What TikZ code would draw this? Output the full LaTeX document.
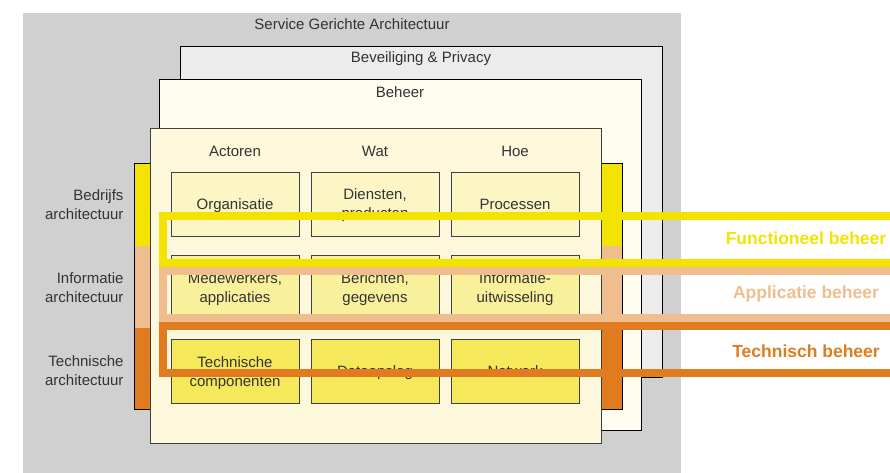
\documentclass[tikz,border=0pt]{standalone}
\usepackage{fontspec}
\setmainfont{Liberation Sans}
\usetikzlibrary{positioning}

\definecolor{soagray}{HTML}{D0D0D0}
\definecolor{secgray}{HTML}{ECECEC}
\definecolor{beheercream}{HTML}{FFFDF0}
\definecolor{panelcream}{HTML}{FDF8DC}
\definecolor{rowone}{HTML}{FBF6C4}
\definecolor{rowtwo}{HTML}{F9F09C}
\definecolor{rowthree}{HTML}{F5E85A}
\definecolor{funcyellow}{HTML}{F2E400}
\definecolor{appsalmon}{HTML}{F0BD8F}
\definecolor{techorange}{HTML}{E07B20}

\begin{document}
\begin{tikzpicture}[x=1pt,y=-1pt,node distance=140pt,
                    every node/.style={font=\fontsize{15}{19}\selectfont,text=black!80}]
  \tikzset{cell/.style={draw=black!75,line width=1pt,minimum width=128pt,minimum height=64pt,
                        inner sep=0pt,align=center,text depth=0pt}}
  \tikzset{layer/.style={draw=black,line width=0.8pt}}
  \tikzset{band/.style={line width=8pt,line join=miter}}
  \tikzset{bandlabel/.style={font=\fontsize{17.5}{19}\selectfont\bfseries}}

  \useasboundingbox (0,0) rectangle (890,473);

  % lagen
  \fill[soagray] (23,13) rectangle (681,473);
  \node (soa) at (352,24) {Service Gerichte Architectuur};
  \filldraw[layer,fill=secgray] (180,46) rectangle (662,377);
  \node (beveiliging) at (421,59) {Beveiliging \& Privacy};
  \filldraw[layer,fill=beheercream] (159,79) rectangle (641,430);
  \node (beheer) at (400,92) {Beheer};

  % architectuur balk
  \fill[funcyellow] (134,163) rectangle (622,246);
  \fill[appsalmon] (134,246) rectangle (622,328);
  \fill[techorange] (134,328) rectangle (622,409);
  \draw[layer] (134,163) rectangle (622,409);
  \filldraw[layer,draw=black!75,line width=1pt,fill=panelcream] (150,129) rectangle (601,443);

  \node[align=right,anchor=east,text depth=0pt] (bedrijfs) at (127,205) {Bedrijfs\\architectuur};
  \node[align=right,anchor=east,text depth=0pt] (informatie) at (127,288) {Informatie\\architectuur};
  \node[align=right,anchor=east,text depth=0pt] (technische) at (127,371) {Technische\\architectuur};

  % cellen
  \node[cell,fill=rowone] (org)              at (235,204)   {Organisatie};
  \node[cell,fill=rowone] (diensten)   [right of=org]      {Diensten,\\producten};
  \node[cell,fill=rowone] (processen)  [right of=diensten] {Processen};

  \node[cell,fill=rowtwo] (medewerkers) [below of=org,node distance=83.5pt] {Medewerkers,\\applicaties};
  \node[cell,fill=rowtwo] (berichten)   [right of=medewerkers] {Berichten,\\gegevens};
  \node[cell,fill=rowtwo] (uitwisseling) [right of=berichten] {Informatie-\\uitwisseling};

  \node[cell,fill=rowthree] (componenten) [below of=medewerkers,node distance=84pt] {Technische\\componenten};
  \node[cell,fill=rowthree] (dataopslag)  [right of=componenten] {Dataopslag};
  \node[cell,fill=rowthree] (netwerk)     [right of=dataopslag] {Netwerk};

  \node (actoren) [above of=org,node distance=53pt]       {Actoren};
  \node (wat)     [above of=diensten,node distance=53pt]  {Wat};
  \node (hoe)     [above of=processen,node distance=53pt] {Hoe};

  % beheer banden
  \draw[band,funcyellow] (895,215.5) -- (163,215.5) -- (163,262.5) -- (895,262.5);
  \draw[band,appsalmon] (895,270.5) -- (163,270.5) -- (163,317.5) -- (895,317.5);
  \draw[band,techorange] (895,325.5) -- (163,325.5) -- (163,372.5) -- (895,372.5);

  \node[bandlabel,text=funcyellow] (functioneel) at (806,238) {Functioneel beheer};
  \node[bandlabel,text=appsalmon]  (applicatie)  at (806,294) {Applicatie beheer};
  \node[bandlabel,text=techorange] (technisch)   at (806,351) {Technisch beheer};
\end{tikzpicture}
\end{document}
